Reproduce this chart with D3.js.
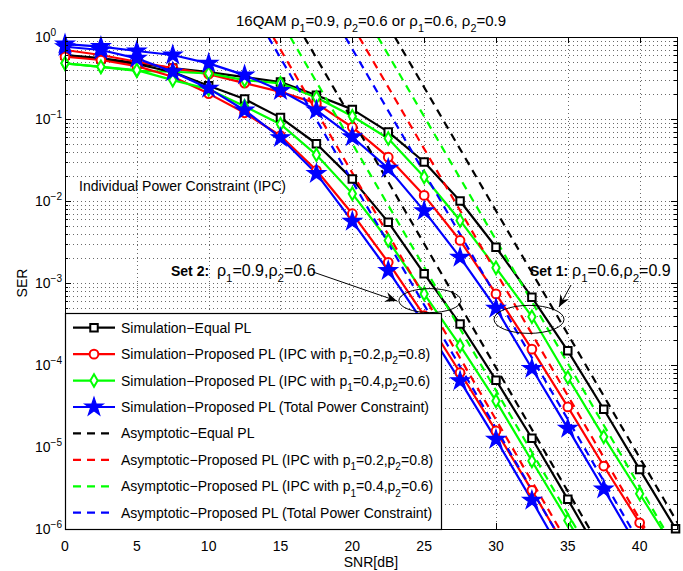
<!DOCTYPE html>
<html>
<head>
<meta charset="utf-8">
<script src="https://cdn.jsdelivr.net/npm/d3@7"></script>
<style>
  body { margin: 0; background: #fff; }
  svg text { font-family: "Liberation Sans", Arial, Helvetica, sans-serif; fill: #000; }
</style>
</head>
<body>
<div id="chart"></div>
<script>
var snr = [0, 2.5, 5, 7.5, 10, 12.5, 15, 17.5, 20, 22.5, 25, 27.5, 30, 32.5, 35, 37.5, 40, 42.5];

// Set 1: rho1=0.6, rho2=0.9 (right-hand group)
var set1Equal = [0.603, 0.553, 0.481, 0.418, 0.373, 0.324, 0.282, 0.195, 0.131, 0.0696, 0.0299, 0.0100, 0.00273, 6.69e-4, 1.49e-4, 2.89e-5, 5.33e-6, 1.01e-6];
var set1Ipc28 = [0.694, 0.603, 0.499, 0.418, 0.353, 0.274, 0.214, 0.155, 0.0794, 0.0342, 0.0117, 0.00330, 7.36e-4, 1.56e-4, 3.08e-5, 5.86e-6, 1.19e-6, 2.3e-7];
var set1Ipc46 = [0.477, 0.433, 0.387, 0.377, 0.360, 0.298, 0.272, 0.183, 0.108, 0.0578, 0.0196, 0.00579, 0.00153, 3.88e-4, 7.03e-5, 1.33e-5, 2.69e-6, 5.4e-7];
var set1Tpc = [0.82, 0.765, 0.675, 0.603, 0.477, 0.343, 0.222, 0.128, 0.0604, 0.0250, 0.00757, 0.00205, 4.91e-4, 9.06e-5, 1.69e-5, 3.07e-6, 5.5e-7];

// Set 2: rho1=0.9, rho2=0.6 (left-hand group)
var set2Equal = [0.603, 0.538, 0.468, 0.373, 0.254, 0.175, 0.104, 0.0499, 0.0185, 0.00552, 0.00130, 3.16e-4, 6.53e-5, 1.28e-5, 2.30e-6, 4.0e-7];
var set2Ipc28 = [0.574, 0.524, 0.442, 0.327, 0.204, 0.119, 0.0625, 0.0237, 0.00700, 0.00179, 3.99e-4, 8.10e-5, 1.57e-5, 2.96e-6, 5.4e-7];
var set2Ipc46 = [0.477, 0.433, 0.395, 0.298, 0.231, 0.143, 0.0864, 0.0366, 0.0123, 0.00330, 7.36e-4, 1.72e-4, 3.65e-5, 6.75e-6, 1.27e-6, 2.3e-7];
var set2Tpc = [0.761, 0.694, 0.549, 0.377, 0.236, 0.128, 0.0591, 0.0216, 0.00563, 0.00142, 3.19e-4, 6.41e-5, 1.24e-5, 2.23e-6, 3.8e-7];

// asymptotic lines: SNR where each line crosses SER = 1 and SER = 1e-6
var asymSer = [1, 1e-6];
var asymSet1Equal = [22.96, 42.89];
var asymSet1Ipc28 = [20.47, 40.40];
var asymSet1Ipc46 = [21.78, 41.71];
var asymSet1Tpc = [19.51, 39.44];
var asymSet2Equal = [16.65, 36.52];
var asymSet2Ipc28 = [14.49, 34.43];
var asymSet2Ipc46 = [15.68, 35.61];
var asymSet2Tpc = [14.15, 34.08];

var xTicks = [0, 5, 10, 15, 20, 25, 30, 35, 40];
var yExponents = [0, -1, -2, -3, -4, -5, -6];

var legendLabels = [
  [["Simulation\u2212Equal PL"]],
  [["Simulation\u2212Proposed PL (IPC with p"], ["1", "sub"], ["=0.2,p"], ["2", "sub"], ["=0.8)"]],
  [["Simulation\u2212Proposed PL (IPC with p"], ["1", "sub"], ["=0.4,p"], ["2", "sub"], ["=0.6)"]],
  [["Simulation\u2212Proposed PL (Total Power Constraint)"]],
  [["Asymptotic\u2212Equal PL"]],
  [["Asymptotic\u2212Proposed PL (IPC with p"], ["1", "sub"], ["=0.2,p"], ["2", "sub"], ["=0.8)"]],
  [["Asymptotic\u2212Proposed PL (IPC with p"], ["1", "sub"], ["=0.4,p"], ["2", "sub"], ["=0.6)"]],
  [["Asymptotic\u2212Proposed PL (Total Power Constraint)"]]
];

var colors = ["#000000", "#ff0000", "#00ff00", "#0000ff"];
var symbols = [d3.symbolSquare, d3.symbolCircle, d3.symbolDiamond, d3.symbolStar];
var symbolSizes = [56, 60, 46, 105];

var simSeries = [
  { vals: set1Equal, k: 0 }, { vals: set1Ipc28, k: 1 }, { vals: set1Ipc46, k: 2 }, { vals: set1Tpc, k: 3 },
  { vals: set2Equal, k: 0 }, { vals: set2Ipc28, k: 1 }, { vals: set2Ipc46, k: 2 }, { vals: set2Tpc, k: 3 }
];
var asymSeries = [
  { snrs: asymSet1Equal, k: 0 }, { snrs: asymSet1Ipc28, k: 1 }, { snrs: asymSet1Ipc46, k: 2 }, { snrs: asymSet1Tpc, k: 3 },
  { snrs: asymSet2Equal, k: 0 }, { snrs: asymSet2Ipc28, k: 1 }, { snrs: asymSet2Ipc46, k: 2 }, { snrs: asymSet2Tpc, k: 3 }
];

var W = 683, H = 571;
var plot = { left: 65, right: 677, top: 37, bottom: 529 };
var fontSize = 14;

var svg = d3.select("#chart").append("svg").attr("width", W).attr("height", H);

var x = d3.scaleLinear().domain([0, 42.6]).range([plot.left, plot.right]);
var y = d3.scaleLog().domain([1e-6, 1]).range([plot.bottom, plot.top]);

var defs = svg.append("defs");
defs.append("clipPath").attr("id", "plotclip")
  .append("rect")
  .attr("x", plot.left).attr("y", plot.top)
  .attr("width", plot.right - plot.left).attr("height", plot.bottom - plot.top);
defs.append("marker")
  .attr("id", "arrowhead")
  .attr("markerUnits", "userSpaceOnUse")
  .attr("viewBox", "0 0 12 10")
  .attr("refX", 12).attr("refY", 5)
  .attr("markerWidth", 12).attr("markerHeight", 10)
  .attr("orient", "auto")
  .append("path")
  .attr("d", "M0,0 L12,5 L0,10 L4,5 Z")
  .attr("fill", "#000");

// rich text helper: parts are [text, "sub"|"sup"|undefined]
function richText(el, parts, size) {
  var shift = 0;
  parts.forEach(function (p) {
    var want = p[1] == "sub" ? size * 0.38 : p[1] == "sup" ? -size * 0.45 : 0;
    el.append("tspan")
      .attr("dy", want - shift)
      .style("font-size", (p[1] ? size * 0.72 : size) + "px")
      .text(p[0]);
    shift = want;
  });
  return el;
}

// grid (dotted, MATLAB style)
var grid = svg.append("g").attr("stroke", "#6a6a6a").attr("stroke-width", 1)
  .attr("stroke-dasharray", "1,3").attr("shape-rendering", "crispEdges");
var gridVals = [];
for (var e = -6; e < 0; e++) {
  for (var k = 1; k < 10; k++) {
    if (e == -6 && k == 1) continue;
    gridVals.push(k * Math.pow(10, e));
  }
}
grid.selectAll("line.h").data(gridVals).enter().append("line")
  .attr("x1", plot.left).attr("x2", plot.right)
  .attr("y1", function (d) { return Math.round(y(d)) + 0.5; })
  .attr("y2", function (d) { return Math.round(y(d)) + 0.5; });
grid.selectAll("line.v").data(xTicks.slice(1)).enter().append("line")
  .attr("y1", plot.top).attr("y2", plot.bottom)
  .attr("x1", function (d) { return Math.round(x(d)) + 0.5; })
  .attr("x2", function (d) { return Math.round(x(d)) + 0.5; });

// curves
var curves = svg.append("g").attr("clip-path", "url(#plotclip)");
var line = d3.line()
  .x(function (d) { return x(d[0]); })
  .y(function (d) { return y(d[1]); });

simSeries.forEach(function (s) {
  var pts = s.vals.map(function (v, i) { return [snr[i], v]; });
  curves.append("path")
    .attr("d", line(pts))
    .attr("fill", "none")
    .attr("stroke", colors[s.k])
    .attr("stroke-width", 2.2)
    .attr("stroke-linejoin", "round");
});

asymSeries.forEach(function (s) {
  var pts = s.snrs.map(function (v, i) { return [v, asymSer[i]]; });
  curves.append("path")
    .attr("d", line(pts))
    .attr("fill", "none")
    .attr("stroke", colors[s.k])
    .attr("stroke-width", 2.2)
    .attr("stroke-dasharray", "8,6");
});

function drawMarker(g, k, px, py) {
  g.append("path")
    .attr("d", d3.symbol().type(symbols[k]).size(symbolSizes[k])())
    .attr("transform", "translate(" + px + "," + py + ")")
    .attr("fill", k == 3 ? colors[k] : "#fff")
    .attr("stroke", colors[k])
    .attr("stroke-width", k == 3 ? 1.2 : 2);
}

var marks = svg.append("g");
simSeries.forEach(function (s) {
  s.vals.forEach(function (v, i) {
    if (v < 1e-6) return;
    drawMarker(marks, s.k, x(snr[i]), y(v));
  });
});

// axes box and ticks
var axes = svg.append("g").attr("stroke", "#000").attr("stroke-width", 1).attr("shape-rendering", "crispEdges");
axes.append("rect")
  .attr("x", plot.left + 0.5).attr("y", plot.top + 0.5)
  .attr("width", plot.right - plot.left).attr("height", plot.bottom - plot.top)
  .attr("fill", "none");
xTicks.forEach(function (t) {
  var px = Math.round(x(t)) + 0.5;
  axes.append("line").attr("x1", px).attr("x2", px).attr("y1", plot.bottom).attr("y2", plot.bottom - 6);
  axes.append("line").attr("x1", px).attr("x2", px).attr("y1", plot.top).attr("y2", plot.top + 6);
});
yExponents.forEach(function (e) {
  for (var k = 1; k < 10; k++) {
    var v = k * Math.pow(10, e);
    if (v > 1) break;
    var py = Math.round(y(v)) + 0.5;
    var len = k == 1 ? 6 : 3;
    axes.append("line").attr("x1", plot.left).attr("x2", plot.left + len).attr("y1", py).attr("y2", py);
    axes.append("line").attr("x1", plot.right - len).attr("x2", plot.right).attr("y1", py).attr("y2", py);
  }
});

// tick labels
var labels = svg.append("g").style("font-size", fontSize + "px");
labels.selectAll("text.xt").data(xTicks).enter().append("text")
  .attr("x", function (d) { return x(d); })
  .attr("y", 551)
  .attr("text-anchor", "middle")
  .text(function (d) { return d; });
yExponents.forEach(function (e) {
  var t = labels.append("text").attr("x", 35).attr("y", y(Math.pow(10, e)) + 5);
  richText(t, [["10"], [e == 0 ? "0" : "\u2212" + (-e), "sup"]], fontSize);
});

svg.append("text")
  .attr("x", (plot.left + plot.right) / 2).attr("y", 567)
  .attr("text-anchor", "middle").style("font-size", fontSize + "px")
  .text("SNR[dB]");
svg.append("text")
  .attr("transform", "translate(27," + (plot.top + plot.bottom) / 2 + ") rotate(-90)")
  .attr("text-anchor", "middle").style("font-size", fontSize + "px")
  .text("SER");

var title = svg.append("text")
  .attr("x", (plot.left + plot.right) / 2).attr("y", 26)
  .attr("text-anchor", "middle");
richText(title, [["16QAM \u03c1"], ["1", "sub"], ["=0.9, \u03c1"], ["2", "sub"], ["=0.6 or \u03c1"], ["1", "sub"], ["=0.6, \u03c1"], ["2", "sub"], ["=0.9"]], 15);

// annotations
svg.append("text").attr("x", 79).attr("y", 191).style("font-size", fontSize + "px")
  .text("Individual Power Constraint (IPC)");

var set2Label = svg.append("text").attr("x", 171).attr("y", 276);
set2Label.append("tspan").style("font-size", fontSize + "px").style("font-weight", "bold").text("Set 2:");
set2Label.append("tspan").style("font-size", "14px").text("\u00a0 ");
richText(set2Label, [["\u03c1"], ["1", "sub"], ["=0.9,\u03c1"], ["2", "sub"], ["=0.6"]], 16);

var set1Label = svg.append("text").attr("x", 530).attr("y", 276);
set1Label.append("tspan").style("font-size", fontSize + "px").style("font-weight", "bold").text("Set 1:");
set1Label.append("tspan").style("font-size", "14px").text("\u00a0");
richText(set1Label, [["\u03c1"], ["1", "sub"], ["=0.6,\u03c1"], ["2", "sub"], ["=0.9"]], 16);

svg.append("ellipse")
  .attr("cx", x(25.4)).attr("cy", y(6.1e-4)).attr("rx", 31).attr("ry", 12)
  .attr("fill", "none").attr("stroke", "#000").attr("stroke-width", 1);
svg.append("ellipse")
  .attr("cx", x(32.3)).attr("cy", y(3.6e-4)).attr("rx", 35).attr("ry", 14)
  .attr("fill", "none").attr("stroke", "#000").attr("stroke-width", 1);

svg.append("line")
  .attr("x1", 313).attr("y1", 272).attr("x2", 397).attr("y2", 301)
  .attr("stroke", "#000").attr("stroke-width", 1).attr("marker-end", "url(#arrowhead)");
svg.append("line")
  .attr("x1", 571).attr("y1", 285).attr("x2", 559).attr("y2", 307)
  .attr("stroke", "#000").attr("stroke-width", 1).attr("marker-end", "url(#arrowhead)");

// legend
var leg = svg.append("g");
leg.append("rect")
  .attr("x", 65.5).attr("y", 313.5).attr("width", 376).attr("height", 216)
  .attr("fill", "#fff").attr("stroke", "#000").attr("stroke-width", 1.2);
legendLabels.forEach(function (parts, i) {
  var cy = 327.7 + i * 26.43;
  var k = i % 4;
  leg.append("line")
    .attr("x1", 73).attr("x2", 115).attr("y1", cy).attr("y2", cy)
    .attr("stroke", colors[k]).attr("stroke-width", 2.2)
    .attr("stroke-dasharray", i < 4 ? null : "8,6");
  if (i < 4) drawMarker(leg, k, 94, cy);
  var t = leg.append("text").attr("x", 121).attr("y", cy + 5);
  richText(t, parts, fontSize);
});
</script>
</body>
</html>
